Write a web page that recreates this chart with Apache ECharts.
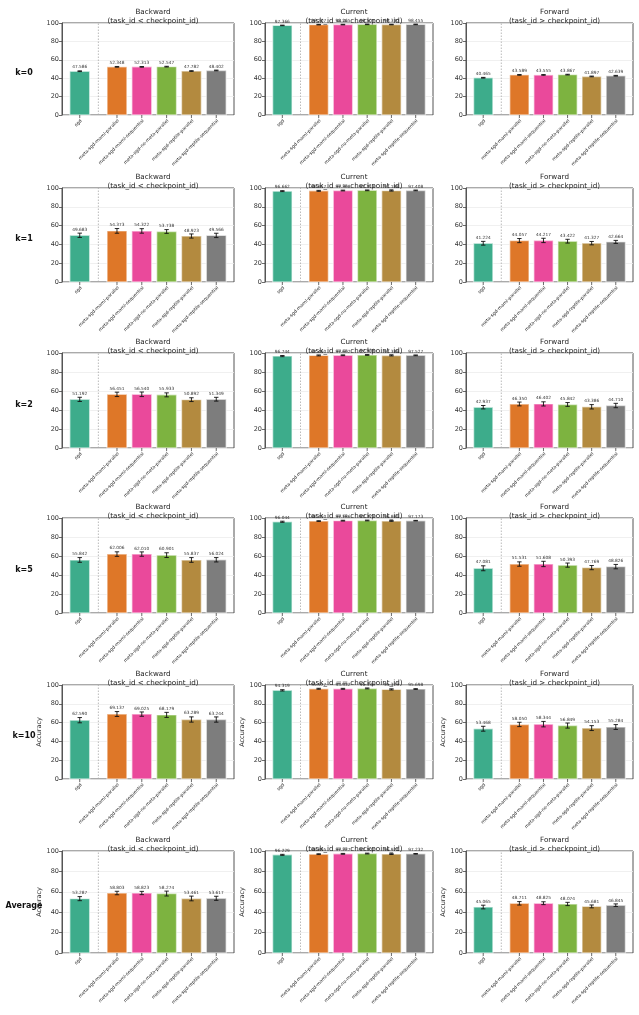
<!DOCTYPE html>
<html>
<head>
<meta charset="utf-8">
<script src="https://cdn.jsdelivr.net/npm/echarts@6/dist/echarts.min.js"></script>
<style>
  html, body { margin: 0; padding: 0; background: #fff; }
  #main { width: 639px; height: 1015px; }
</style>
</head>
<body>
<div id="main"></div>
<script>
// categories (x labels) and row / column names
const categories = ['sgd', 'meta-sgd-maml-parallel', 'meta-sgd-maml-sequential',
  'meta-sgd-no-meta-parallel', 'meta-sgd-reptile-parallel', 'meta-sgd-reptile-sequential'];
const rowLabels = ['k=0', 'k=1', 'k=2', 'k=5', 'k=10', 'Average'];
const columnTitles = ['Backward\n(task_id < checkpoint_id)', 'Current\n(task_id == checkpoint_id)', 'Forward\n(task_id > checkpoint_id)'];
const yTicks = [0, 20, 40, 60, 80, 100];

// mean accuracy per row
const backward_k0 = [47.586, 52.348, 52.313, 52.547, 47.782, 48.402];
const current_k0 = [97.366, 98.207, 98.265, 98.507, 98.330, 98.455];
const forward_k0 = [40.465, 43.589, 43.555, 43.867, 41.897, 42.639];

const backward_k1 = [49.683, 54.373, 54.322, 53.738, 48.923, 49.566];
const current_k1 = [96.662, 96.957, 97.308, 97.513, 97.188, 97.408];
const forward_k1 = [41.224, 44.057, 44.217, 43.422, 41.327, 42.664];

const backward_k2 = [51.192, 56.451, 56.540, 55.933, 50.892, 51.349];
const current_k2 = [96.744, 97.460, 97.602, 97.938, 97.389, 97.527];
const forward_k2 = [42.937, 46.350, 46.402, 45.842, 43.386, 44.710];

const backward_k5 = [55.842, 62.006, 62.010, 60.901, 55.837, 56.024];
const current_k5 = [96.044, 96.750, 97.186, 97.373, 96.865, 97.173];
const forward_k5 = [47.081, 51.531, 51.608, 50.393, 47.769, 48.826];

const backward_k10 = [62.590, 69.137, 69.025, 68.179, 63.289, 63.244];
const current_k10 = [94.319, 95.977, 95.932, 96.336, 95.323, 95.698];
const forward_k10 = [53.468, 58.050, 58.344, 56.849, 54.153, 55.284];

const backward_avg = [53.287, 58.803, 58.823, 58.274, 53.461, 53.617];
const current_avg = [96.229, 96.895, 97.227, 97.502, 96.971, 97.232];
const forward_avg = [45.065, 48.711, 48.825, 48.074, 45.681, 46.845];

// error bar half-lengths per row
const backward_k0_err = [0.4, 0.4, 0.4, 0.4, 0.4, 0.4];
const current_k0_err = [0.3, 0.3, 0.3, 0.3, 0.3, 0.3];
const forward_k0_err = [0.4, 0.4, 0.4, 0.4, 0.4, 0.4];

const backward_k1_err = [2.3, 2.5, 2.4, 2.0, 2.2, 2.3];
const current_k1_err = [0.5, 0.5, 0.4, 0.4, 0.5, 0.4];
const forward_k1_err = [2.0, 2.2, 2.3, 2.0, 1.8, 1.6];

const backward_k2_err = [2.2, 2.3, 2.4, 2.1, 2.0, 2.0];
const current_k2_err = [0.6, 0.5, 0.4, 0.4, 0.5, 0.4];
const forward_k2_err = [1.8, 2.0, 2.2, 2.0, 2.3, 2.3];

const backward_k5_err = [2.5, 2.4, 2.3, 2.5, 2.5, 2.3];
const current_k5_err = [0.6, 0.4, 0.4, 0.4, 0.4, 0.3];
const forward_k5_err = [2.6, 2.3, 2.8, 2.2, 2.2, 2.3];

const backward_k10_err = [2.8, 2.6, 2.3, 2.7, 2.8, 2.8];
const current_k10_err = [0.7, 0.5, 0.5, 0.5, 0.6, 0.4];
const forward_k10_err = [2.6, 2.3, 2.9, 2.7, 2.6, 2.6];

const backward_avg_err = [2.0, 1.7, 1.6, 2.4, 2.3, 2.0];
const current_avg_err = [0.5, 0.4, 0.4, 0.4, 0.4, 0.3];
const forward_avg_err = [1.8, 1.7, 1.4, 1.6, 1.4, 1.3];

const panels = [
  [[backward_k0, backward_k0_err], [current_k0, current_k0_err], [forward_k0, forward_k0_err]],
  [[backward_k1, backward_k1_err], [current_k1, current_k1_err], [forward_k1, forward_k1_err]],
  [[backward_k2, backward_k2_err], [current_k2, current_k2_err], [forward_k2, forward_k2_err]],
  [[backward_k5, backward_k5_err], [current_k5, current_k5_err], [forward_k5, forward_k5_err]],
  [[backward_k10, backward_k10_err], [current_k10, current_k10_err], [forward_k10, forward_k10_err]],
  [[backward_avg, backward_avg_err], [current_avg, current_avg_err], [forward_avg, forward_avg_err]]
];

// Dark2 colours blended at alpha 0.85
const colors = ['#3dac8b', '#de7728', '#ea499b', '#7db340', '#b38a3f', '#7d7d7d'];

const FONT = 'DejaVu Sans';
const colLeft = [62, 265, 466];
const colWidth = [172, 168, 167];
const rowTop = [23, 188, 353, 518, 685, 851];
const rowHeight = [92, 94, 95, 95, 94, 102];

// sgd sits alone, the meta-sgd runs are shifted right by half a slot
function xPos(i) { return i === 0 ? 0 : i + 0.5; }

function renderBar(params, api) {
  const i = params.dataIndex;
  const x = api.value(0), y = api.value(1), e = api.value(2);
  const base = api.coord([x, 0]);
  const top = api.coord([x, y]);
  const lo = api.coord([x, y - e]);
  const hi = api.coord([x, y + e]);
  const w = api.size([0.8, 0])[0];
  return {
    type: 'group',
    children: [
      { type: 'rect', shape: { x: base[0] - w / 2, y: top[1], width: w, height: base[1] - top[1] },
        style: { fill: colors[i], stroke: 'rgba(255,255,255,0.55)', lineWidth: 1.4 } },
      { type: 'line', shape: { x1: lo[0], y1: lo[1], x2: hi[0], y2: hi[1] }, style: { stroke: '#111', lineWidth: 0.9 } },
      { type: 'line', shape: { x1: lo[0] - 2.2, y1: lo[1], x2: lo[0] + 2.2, y2: lo[1] }, style: { stroke: '#111', lineWidth: 0.9 } },
      { type: 'line', shape: { x1: hi[0] - 2.2, y1: hi[1], x2: hi[0] + 2.2, y2: hi[1] }, style: { stroke: '#111', lineWidth: 0.9 } },
      { type: 'text', x: hi[0], y: hi[1] - 1.5,
        style: { text: y.toFixed(3), fontSize: 4.3, fontFamily: FONT, fill: '#333', align: 'center', verticalAlign: 'bottom' } },
      { type: 'line', shape: { x1: base[0], y1: base[1], x2: base[0], y2: base[1] + 3 }, style: { stroke: '#444', lineWidth: 0.8 } },
      { type: 'text', x: base[0] + 1.5, y: base[1] + 5, rotation: Math.PI / 4,
        style: { text: categories[i], fontSize: 4.6, fontFamily: FONT, fill: '#222', align: 'right', verticalAlign: 'middle' } }
    ]
  };
}

function renderSeparator(params, api) {
  const a = api.coord([api.value(0), 0]);
  const b = api.coord([api.value(0), 100]);
  return { type: 'line', shape: { x1: a[0], y1: a[1], x2: b[0], y2: b[1] },
    style: { stroke: '#aaa', lineWidth: 0.8, lineDash: [1.5, 1.5] } };
}

const grids = [], xAxes = [], yAxes = [], series = [], titles = [];
panels.forEach((row, r) => {
  titles.push({
    text: rowLabels[r], left: 19, top: rowTop[r] + rowHeight[r] / 2 - 5, textAlign: 'center',
    textStyle: { fontSize: 8, fontWeight: 'bold', fontFamily: FONT, color: '#111' }
  });
  row.forEach((cell, c) => {
    const k = grids.length;
    const [means, errs] = cell;
    grids.push({ left: colLeft[c], top: rowTop[r], width: colWidth[c], height: rowHeight[r],
      show: true, borderColor: '#555', borderWidth: 1, backgroundColor: 'transparent' });
    xAxes.push({ type: 'value', gridIndex: k, min: -0.715, max: 6.215,
      axisLine: { show: false }, axisTick: { show: false }, axisLabel: { show: false }, splitLine: { show: false } });
    yAxes.push({ type: 'value', gridIndex: k, min: yTicks[0], max: yTicks[yTicks.length - 1], interval: 20,
      name: r >= 4 ? 'Accuracy' : '', nameLocation: 'middle', nameGap: 16, nameRotate: 90,
      nameTextStyle: { fontSize: 6.5, fontFamily: FONT, color: '#333' },
      axisLine: { show: true, onZero: false, lineStyle: { color: '#555', width: 1 } },
      axisTick: { show: true, length: 3, lineStyle: { color: '#444', width: 0.8 } },
      axisLabel: { fontSize: 6.5, fontFamily: FONT, color: '#333', margin: 3 },
      splitLine: { show: true, lineStyle: { color: '#ececec', width: 0.8 } } });
    titles.push({
      text: columnTitles[c], left: colLeft[c] + colWidth[c] / 2, top: rowTop[r] - 20, textAlign: 'center',
      textStyle: { fontSize: 7.2, fontWeight: 'normal', fontFamily: FONT, color: '#222', lineHeight: 8.5 }
    });
    series.push({ type: 'custom', xAxisIndex: k, yAxisIndex: k, clip: false, silent: true,
      data: [[0.75]], renderItem: renderSeparator, z: 1 });
    series.push({ type: 'custom', xAxisIndex: k, yAxisIndex: k, clip: false, silent: true,
      data: means.map((v, i) => [xPos(i), v, errs[i]]), renderItem: renderBar, z: 2 });
  });
});

const chart = echarts.init(document.getElementById('main'), null, { renderer: 'canvas' });
chart.setOption({
  animation: false,
  backgroundColor: '#fff',
  title: titles,
  grid: grids,
  xAxis: xAxes,
  yAxis: yAxes,
  series: series
});
</script>
</body>
</html>
